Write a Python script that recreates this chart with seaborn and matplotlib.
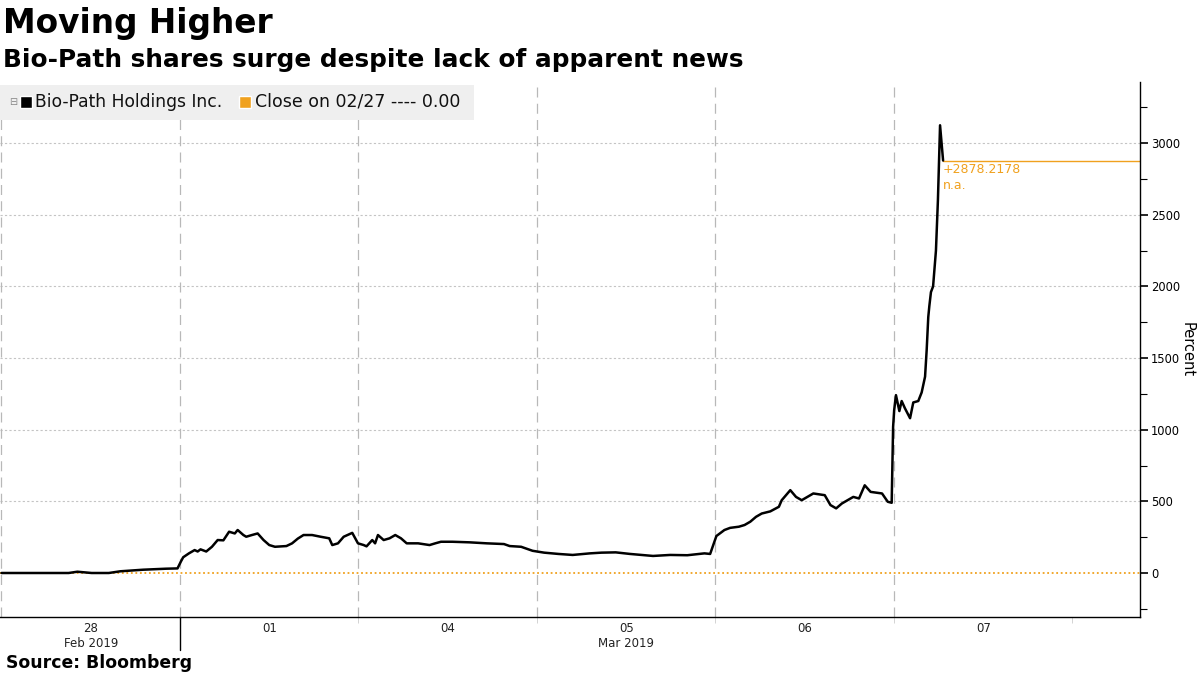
import numpy as np
import pandas as pd
import matplotlib.pyplot as plt
import matplotlib.ticker as ticker
from matplotlib.patches import Rectangle
from matplotlib.lines import Line2D
import seaborn as sns

# position in trading days from Feb 28 open (0 = Feb 28, 1 = Mar 1, 2 = Mar 4, ...)
t_days = [0.0, 0.376, 0.425, 0.505, 0.601, 0.666, 0.794, 0.922, 0.986,
          1.005, 1.018, 1.050, 1.082, 1.099, 1.115, 1.147, 1.179, 1.211, 1.243,
          1.275, 1.307, 1.323, 1.355, 1.371, 1.403, 1.435, 1.468, 1.500, 1.532,
          1.596, 1.628, 1.660, 1.692, 1.740, 1.788, 1.836, 1.853, 1.885, 1.917,
          1.965, 1.997, 2.029, 2.045, 2.077, 2.093, 2.109, 2.141, 2.174, 2.206,
          2.238, 2.270, 2.334, 2.398, 2.430, 2.462, 2.526, 2.622, 2.719, 2.815,
          2.847, 2.911, 2.975, 3.040, 3.120, 3.200, 3.296, 3.361, 3.441, 3.521,
          3.650, 3.746, 3.842, 3.938, 3.970,
          4.005, 4.050, 4.082, 4.131, 4.163, 4.195, 4.227, 4.259, 4.307, 4.355,
          4.371, 4.419, 4.451, 4.483, 4.548, 4.612, 4.644, 4.676, 4.708, 4.772,
          4.804, 4.836, 4.869, 4.933, 4.965, 4.987,
          4.995, 5.001, 5.011, 5.030, 5.043, 5.061, 5.090, 5.108, 5.136, 5.155,
          5.174, 5.183, 5.192, 5.198, 5.207, 5.219, 5.235, 5.246, 5.258, 5.275]
pct = [0, 0, 9, 0, 0, 12, 23, 30, 32,
       80, 110, 137, 160, 150, 165, 150, 183, 230, 228,
       288, 276, 300, 265, 253, 265, 276, 230, 195, 183,
       188, 207, 240, 265, 265, 253, 242, 195, 207, 253,
       280, 207, 195, 186, 230, 207, 265, 230, 242, 265,
       242, 207, 207, 195, 207, 218, 218, 214, 207, 202,
       188, 183, 155, 142, 133, 126, 137, 142, 144, 133,
       119, 126, 124, 137, 133,
       258, 300, 315, 323, 335, 358, 392, 415, 430, 462,
       508, 578, 531, 508, 555, 543, 474, 451, 485, 531,
       520, 612, 566, 555, 497, 490,
       1020, 1137, 1241, 1130, 1200, 1150, 1080, 1190, 1200, 1260,
       1370, 1555, 1786, 1863, 1960, 2000, 2250, 2600, 3124, 2878.2178]

day_labels = ["28", "01", "04", "05", "06", "07"]
month_labels = {"Feb 2019": 0, "Mar 2019": 3}
y_major = [0, 500, 1000, 1500, 2000, 2500, 3000]

ORANGE = "#f0a11e"
W, H = 1200, 675

df = pd.DataFrame({"t": t_days, "pct": pct})

sns.set_theme(style="white")
plt.rcParams["font.family"] = ["DejaVu Sans"]
plt.rcParams["text.color"] = "black"

fig = plt.figure(figsize=(12, 6.75), dpi=100)
ax = fig.add_axes([0, 1 - 617 / H, 1140 / W, (617 - 82) / H])

xmin, xmax = -1.5 / 178.5, (1140 - 1.5) / 178.5
ax.set_xlim(xmin, xmax)
ax.set_ylim(-307, 3426)

# grid
for yv in y_major[1:]:
    ax.axhline(yv, color="#c4c4c4", lw=0.8, ls=(0, (2, 2)), zorder=0)
for d in range(6):
    ax.axvline(d, color="#b8b8b8", lw=0.9, ls=(0, (8, 5)), zorder=0)

# close on 02/27 reference line
ax.axhline(0, color=ORANGE, lw=1.3, ls=(0, (1, 1.5)), zorder=1)

sns.lineplot(data=df, x="t", y="pct", color="black", lw=1.8, estimator=None,
             sort=False, ax=ax, zorder=3)

# last value line + label
ax.plot([t_days[-1], xmax], [pct[-1], pct[-1]], color=ORANGE, lw=1.0, zorder=2)
ax.annotate(f"+{pct[-1]:.4f}\nn.a.", xy=(t_days[-1], pct[-1]), xytext=(0, -2),
            textcoords="offset points", ha="left", va="top", color=ORANGE,
            fontsize=9, linespacing=1.25)

# axes styling
for s in ["top", "left"]:
    ax.spines[s].set_visible(False)
for s in ["right", "bottom"]:
    ax.spines[s].set_color("black")
    ax.spines[s].set_linewidth(1.0)
ax.yaxis.tick_right()
ax.set_yticks(y_major)
ax.yaxis.set_minor_locator(ticker.MultipleLocator(250))
ax.tick_params(axis="y", which="major", length=6, width=1.2, color="black",
               labelsize=8.3, pad=2, labelcolor="black")
ax.tick_params(axis="y", which="minor", length=5, width=0.8, color="black", right=True)
ax.set_xticks(range(1, 7))
ax.set_xticklabels([])
ax.tick_params(axis="x", which="major", length=4, width=0.6, color="#cccccc", bottom=True)
ax.set_xlabel("")
ax.set_ylabel("Percent", rotation=270, fontsize=10.5, labelpad=10, color="black")
ax.yaxis.set_label_position("right")

tr = ax.get_xaxis_transform()
for i, lab in enumerate(day_labels):
    ax.text(i + 0.5, -0.021, lab, transform=tr, ha="center", va="center", fontsize=8.5,
            color="#222222")
for lab, pos in month_labels.items():
    ax.text(pos + 0.5, -0.05, lab, transform=tr, ha="center", va="center", fontsize=8.5,
            color="#222222")
ax.add_line(Line2D([1, 1], [0, -0.062], transform=tr, color="black", lw=1, clip_on=False))

# legend box
def fx(x):
    return x / W

def fy(y):
    return 1 - y / H

fig.patches.append(Rectangle((0, fy(120)), fx(474), fy(85) - fy(120), transform=fig.transFigure,
                             facecolor="#efefef", edgecolor="none", zorder=5))
fig.text(fx(9), fy(102), "⊟", fontsize=7, color="#888888", va="center", ha="left", zorder=6)
fig.patches.append(Rectangle((fx(20), fy(108)), fx(12), fy(96) - fy(108),
                             transform=fig.transFigure, facecolor="black", zorder=6))
fig.text(fx(35), fy(102), "Bio-Path Holdings Inc.", fontsize=12.3, color="#111111",
         va="center", ha="left", zorder=6)
fig.patches.append(Rectangle((fx(239), fy(108)), fx(12), fy(96) - fy(108),
                             transform=fig.transFigure, facecolor=ORANGE, zorder=6))
fig.text(fx(255), fy(102), "Close on 02/27 ---- 0.00", fontsize=12.5, color="#111111",
         va="center", ha="left", zorder=6)

# titles
fig.text(fx(3), fy(23), "Moving Higher", fontsize=23.6, fontweight="bold", va="center",
         ha="left", color="black")
fig.text(fx(3), fy(60), "Bio-Path shares surge despite lack of apparent news", fontsize=17.8,
         fontweight="bold", va="center", ha="left", color="black")
fig.text(fx(6), fy(663), "Source: Bloomberg", fontsize=12.4, fontweight="bold", va="center",
         ha="left", color="black")

fig.savefig("out.png", dpi=100)
